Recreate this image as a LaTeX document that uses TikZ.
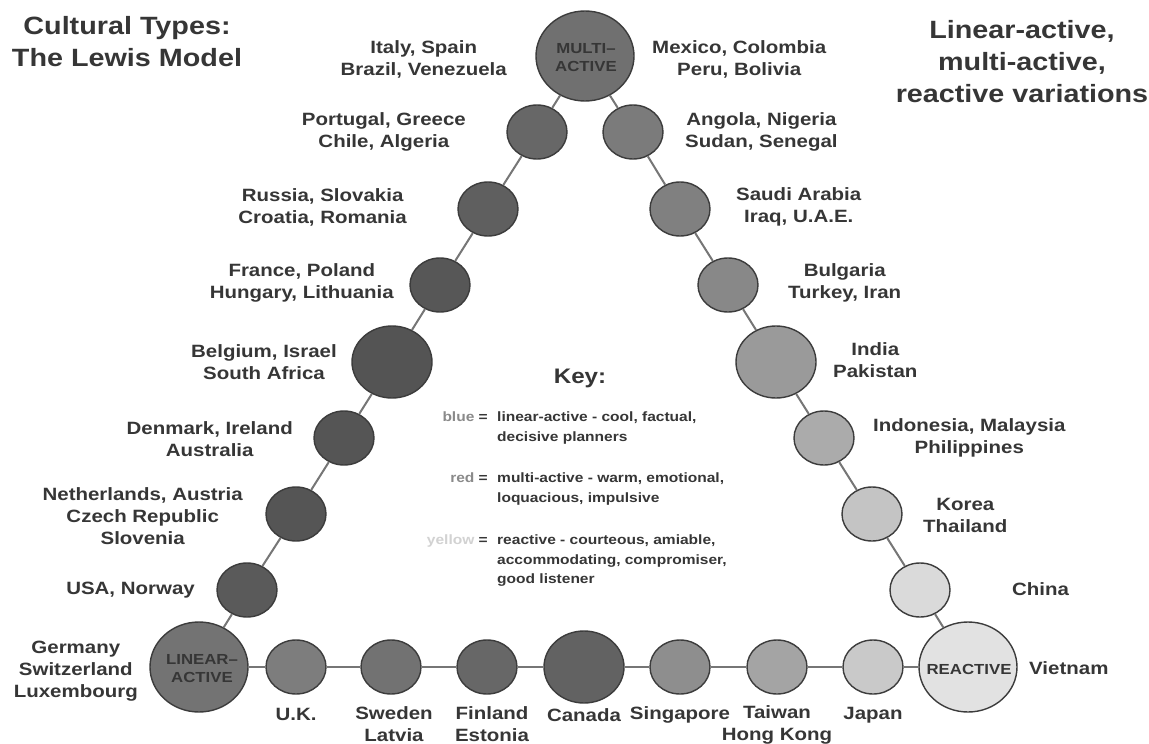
\documentclass[tikz,border=0pt]{standalone}
\usepackage{fontspec}
\setmainfont{Liberation Sans}[FakeStretch=1.15]
\usetikzlibrary{shapes.geometric}
\definecolor{txt}{HTML}{363636}
\definecolor{edge}{HTML}{3C3C3C}
\definecolor{linkc}{HTML}{767676}
\definecolor{keyg}{HTML}{8A8A8A}
\definecolor{keyy}{HTML}{D2D2D2}
\definecolor{cM}{HTML}{707070}
\definecolor{cL}{HTML}{737373}
\definecolor{cR}{HTML}{E2E2E2}
\definecolor{cl1}{HTML}{676767}
\definecolor{cl2}{HTML}{5F5F5F}
\definecolor{cl3}{HTML}{575757}
\definecolor{cl4}{HTML}{545454}
\definecolor{cl5}{HTML}{555555}
\definecolor{cl6}{HTML}{555555}
\definecolor{cl7}{HTML}{5A5A5A}
\definecolor{cr1}{HTML}{7B7B7B}
\definecolor{cr2}{HTML}{808080}
\definecolor{cr3}{HTML}{888888}
\definecolor{cr4}{HTML}{9A9A9A}
\definecolor{cr5}{HTML}{ABABAB}
\definecolor{cr6}{HTML}{C4C4C4}
\definecolor{cr7}{HTML}{DADADA}
\definecolor{cb1}{HTML}{7D7D7D}
\definecolor{cb2}{HTML}{727272}
\definecolor{cb3}{HTML}{676767}
\definecolor{cb4}{HTML}{626262}
\definecolor{cb5}{HTML}{8E8E8E}
\definecolor{cb6}{HTML}{A4A4A4}
\definecolor{cb7}{HTML}{C9C9C9}
\tikzset{
  ball/.style={ellipse, draw=edge, line width=1.4pt, minimum width=60pt, minimum height=54pt, inner sep=0pt},
  bigball/.style={ball, minimum width=80pt, minimum height=72pt},
  hub/.style={ball, minimum width=98pt, minimum height=90pt},
  link/.style={draw=linkc, line width=2pt},
  lbl/.style={font=\bfseries\fontsize{17.8}{22}\selectfont, text=txt, align=center, inner sep=0pt},
  hubtxt/.style={font=\bfseries\fontsize{14.6}{18}\selectfont, text=txt, align=center, inner sep=0pt},
  ttl/.style={font=\bfseries\fontsize{25}{32}\selectfont, text=txt, align=center, inner sep=0pt},
  keyhead/.style={font=\bfseries\fontsize{21}{24}\selectfont, text=txt, inner sep=0pt},
  keytxt/.style={font=\bfseries\fontsize{13.5}{19.5}\selectfont, text=txt, align=left, inner sep=0pt, anchor=north west},
  keyname/.style={font=\bfseries\fontsize{13.5}{19.5}\selectfont, text=txt, inner sep=0pt, anchor=north east}
}
\begin{document}
\begin{tikzpicture}[x=1pt,y=-1pt]
\useasboundingbox[fill=white] (0,0) rectangle (1149,744);
% hubs
\node[hub, fill=cM] (m) at (585,56) {};
\node[hub, fill=cL] (la) at (199,667) {};
\node[hub, fill=cR] (re) at (968,667) {};
% left chain
\node[ball, fill=cl1] (l1) at (537,132) {};
\node[ball, fill=cl2] (l2) at (488,209) {};
\node[ball, fill=cl3] (l3) at (440,285) {};
\node[bigball, fill=cl4] (l4) at (392,362) {};
\node[ball, fill=cl5] (l5) at (344,438) {};
\node[ball, fill=cl6] (l6) at (296,514) {};
\node[ball, fill=cl7] (l7) at (247,590) {};
% right chain
\node[ball, fill=cr1] (r1) at (633,132) {};
\node[ball, fill=cr2] (r2) at (680,209) {};
\node[ball, fill=cr3] (r3) at (728,285) {};
\node[bigball, fill=cr4] (r4) at (776,362) {};
\node[ball, fill=cr5] (r5) at (824,438) {};
\node[ball, fill=cr6] (r6) at (872,514) {};
\node[ball, fill=cr7] (r7) at (920,590) {};
% bottom row
\node[ball, fill=cb1] (b1) at (296,667) {};
\node[ball, fill=cb2] (b2) at (391,667) {};
\node[ball, fill=cb3] (b3) at (487,667) {};
\node[bigball, fill=cb4] (b4) at (584,667) {};
\node[ball, fill=cb5] (b5) at (680,667) {};
\node[ball, fill=cb6] (b6) at (777,667) {};
\node[ball, fill=cb7] (b7) at (873,667) {};
% connectors
\draw[link] (m) -- (l1) (l1) -- (l2) (l2) -- (l3) (l3) -- (l4) (l4) -- (l5) (l5) -- (l6) (l6) -- (l7) (l7) -- (la);
\draw[link] (m) -- (r1) (r1) -- (r2) (r2) -- (r3) (r3) -- (r4) (r4) -- (r5) (r5) -- (r6) (r6) -- (r7) (r7) -- (re);
\draw[link] (la) -- (b1) (b1) -- (b2) (b2) -- (b3) (b3) -- (b4) (b4) -- (b5) (b5) -- (b6) (b6) -- (b7) (b7) -- (re);
% hub texts
\node[hubtxt] (mt) at (586,58) {MULTI--\\ACTIVE};
\node[hubtxt] (lat) at (202,669) {LINEAR--\\ACTIVE};
\node[hubtxt] (ret) at (969,669) {REACTIVE};
% titles
\node[ttl] (title1) at (127,42) {Cultural Types:\\The Lewis Model};
\node[ttl] (title2) at (1022,62) {Linear-active,\\multi-active,\\reactive variations};
% left labels
\node[lbl, anchor=east] (tl0) at (507,59) {Italy, Spain\\Brazil, Venezuela};
\node[lbl, anchor=east] (tl1) at (466,132) {Portugal, Greece\\Chile, Algeria};
\node[lbl, anchor=east] (tl2) at (407,207) {Russia, Slovakia\\Croatia, Romania};
\node[lbl, anchor=east] (tl3) at (394,283) {France, Poland\\Hungary, Lithuania};
\node[lbl, anchor=east] (tl4) at (337,362) {Belgium, Israel\\South Africa};
\node[lbl, anchor=east] (tl5) at (293,439) {Denmark, Ireland\\Australia};
\node[lbl, anchor=east] (tl6) at (243,516) {Netherlands, Austria\\Czech Republic\\Slovenia};
\node[lbl, anchor=east] (tl7) at (195,590) {USA, Norway};
\node[lbl, anchor=east] (tla) at (138,671) {Germany\\Switzerland\\Luxembourg};
% right labels
\node[lbl, anchor=west] (tr0) at (652,59) {Mexico, Colombia\\Peru, Bolivia};
\node[lbl, anchor=west] (tr1) at (685,132) {Angola, Nigeria\\Sudan, Senegal};
\node[lbl, anchor=west] (tr2) at (736,207) {Saudi Arabia\\Iraq, U.A.E.};
\node[lbl, anchor=west] (tr3) at (788,283) {Bulgaria\\Turkey, Iran};
\node[lbl, anchor=west] (tr4) at (833,360) {India\\Pakistan};
\node[lbl, anchor=west] (tr5) at (873,438) {Indonesia, Malaysia\\Philippines};
\node[lbl, anchor=west] (tr6) at (923,515) {Korea\\Thailand};
\node[lbl, anchor=west] (tr7) at (1012,589) {China};
\node[lbl, anchor=west] (tre) at (1029,668) {Vietnam};
% bottom labels
\node[lbl] (tb1) at (296,714) {U.K.};
\node[lbl] (tb2) at (394,724) {Sweden\\Latvia};
\node[lbl] (tb3) at (492,724) {Finland\\Estonia};
\node[lbl] (tb4) at (584,715) {Canada};
\node[lbl] (tb5) at (680,715) {Singapore};
\node[lbl] (tb6) at (777,725) {Taiwan\\Hong Kong};
\node[lbl] (tb7) at (873,715) {Japan};
% key
\node[keyhead] (key) at (580,378) {Key:};
\node[keyname] (k1n) at (488,412) {\textcolor{keyg}{blue} =};
\node[keytxt] (k1t) at (497,412) {linear-active - cool, factual,\\decisive planners};
\node[keyname] (k2n) at (488,473) {\textcolor{keyg}{red} =};
\node[keytxt] (k2t) at (497,473) {multi-active - warm, emotional,\\loquacious, impulsive};
\node[keyname] (k3n) at (488,535) {\textcolor{keyy}{yellow} =};
\node[keytxt] (k3t) at (497,535) {reactive - courteous, amiable,\\accommodating, compromiser,\\good listener};
\end{tikzpicture}
\end{document}
